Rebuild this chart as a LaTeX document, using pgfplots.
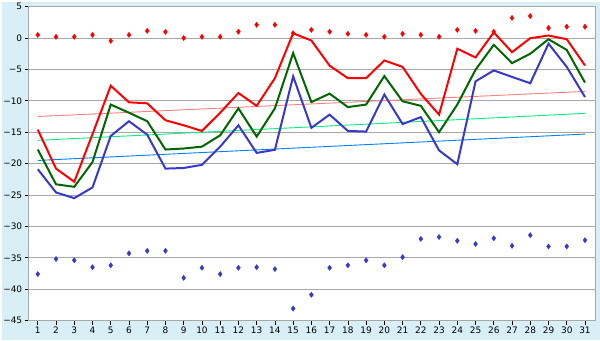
\documentclass[border=0pt]{standalone}
\usepackage{fontspec}
\setmainfont{DejaVu Sans}
\usepackage{pgfplots}
\pgfplotsset{compat=1.18}
\definecolor{bgblue}{HTML}{D9EFF7}
\definecolor{gridgray}{HTML}{A8A8A8}
\definecolor{lineblue}{HTML}{3838CC}
\definecolor{linegreen}{HTML}{006600}
\definecolor{trred}{HTML}{FF8080}
\definecolor{trgreen}{HTML}{00F080}
\definecolor{trblue}{HTML}{0080FF}
\begin{document}
\begin{tikzpicture}[x=1bp,y=1bp]
\fill[bgblue] (0,0) rectangle (600,340);
\begin{axis}[
  at={(26.7bp,20bp)}, anchor=south west,
  scale only axis, width=568.3bp, height=315bp,
  xmin=0.5, xmax=31.55, ymin=-45, ymax=5,
  axis background/.style={fill=white},
  axis line style={gridgray, line width=0.9bp},
  xtick={1,...,31},
  ytick={-45,-40,...,5},
  yticklabels={−45,−40,−35,−30,−25,−20,−15,−10,−5,0,5},
  tick align=outside, major tick length=4bp,
  tick style={black, line width=0.7bp},
  xtick pos=bottom, ytick pos=left,
  ymajorgrids, grid style={gridgray, line width=0.9bp},
  /pgf/number format/assume math mode=true,
  ticklabel style={font=\fontsize{9}{10}\selectfont},
  xticklabel style={yshift=1bp},
  yticklabel style={xshift=1bp},
  clip=false,
]
% trend lines
\addplot[trred, line width=0.9bp] coordinates {(1,-12.5) (31,-8.5)};
\addplot[trgreen, line width=0.9bp] coordinates {(1,-16.3) (31,-12.0)};
\addplot[trblue, line width=0.9bp] coordinates {(1,-19.5) (31,-15.3)};
% blue line (min)
\addplot[lineblue, line width=2bp] coordinates {
(1,-20.9) (2,-24.6) (3,-25.5) (4,-23.8) (5,-15.6) (6,-13.25) (7,-15.4) (8,-20.8)
(9,-20.7) (10,-20.2) (11,-17.3) (12,-13.9) (13,-18.3) (14,-17.8) (15,-6.1) (16,-14.3)
(17,-12.2) (18,-14.8) (19,-14.9) (20,-9.0) (21,-13.7) (22,-12.6) (23,-17.9) (24,-20.1)
(25,-6.9) (26,-5.16) (27,-6.2) (28,-7.2) (29,-0.9) (30,-4.6) (31,-9.4)};
% green line (mean)
\addplot[linegreen, line width=2bp] coordinates {
(1,-17.76) (2,-23.3) (3,-23.7) (4,-19.76) (5,-10.6) (6,-11.9) (7,-13.25) (8,-17.76)
(9,-17.6) (10,-17.3) (11,-15.5) (12,-11.2) (13,-15.7) (14,-11.2) (15,-2.4) (16,-10.2)
(17,-8.86) (18,-11.0) (19,-10.6) (20,-6.06) (21,-10.08) (22,-10.8) (23,-15.0) (24,-10.6)
(25,-5.05) (26,-1.08) (27,-4.0) (28,-2.5) (29,-0.19) (30,-1.9) (31,-7.1)};
% red line (max)
\addplot[red, line width=2bp] coordinates {
(1,-14.6) (2,-20.8) (3,-22.9) (4,-15.3) (5,-7.6) (6,-10.24) (7,-10.4) (8,-13.1)
(9,-13.9) (10,-14.8) (11,-11.9) (12,-8.76) (13,-10.8) (14,-6.4) (15,0.76) (16,-0.4)
(17,-4.4) (18,-6.4) (19,-6.4) (20,-3.57) (21,-4.6) (22,-8.9) (23,-12.2) (24,-1.7)
(25,-3.1) (26,0.9) (27,-2.25) (28,-0.03) (29,0.4) (30,-0.19) (31,-4.37)};
% record highs
\addplot[only marks, red, mark=diamond*, mark size=2.6bp] coordinates {
(1,0.5) (2,0.19) (3,0.2) (4,0.5) (5,-0.45) (6,0.5) (7,1.14) (8,0.98) (9,0.0) (10,0.19)
(11,0.2) (12,1.0) (13,2.1) (14,2.1) (15,0.77) (16,1.3) (17,1.0) (18,0.67) (19,0.5) (20,0.2)
(21,0.67) (22,0.5) (23,0.2) (24,1.3) (25,1.14) (26,1.0) (27,3.2) (28,3.5) (29,1.6) (30,1.8) (31,1.8)};
% record lows
\addplot[only marks, lineblue, mark=diamond*, mark size=2.6bp] coordinates {
(1,-37.6) (2,-35.2) (3,-35.4) (4,-36.5) (5,-36.2) (6,-34.3) (7,-33.9) (8,-33.9) (9,-38.2) (10,-36.6)
(11,-37.6) (12,-36.6) (13,-36.5) (14,-36.8) (15,-43.1) (16,-40.9) (17,-36.6) (18,-36.2) (19,-35.4) (20,-36.2)
(21,-34.9) (22,-32.0) (23,-31.7) (24,-32.3) (25,-32.8) (26,-31.9) (27,-33.1) (28,-31.4) (29,-33.2) (30,-33.2) (31,-32.2)};
\end{axis}
\end{tikzpicture}
\end{document}
